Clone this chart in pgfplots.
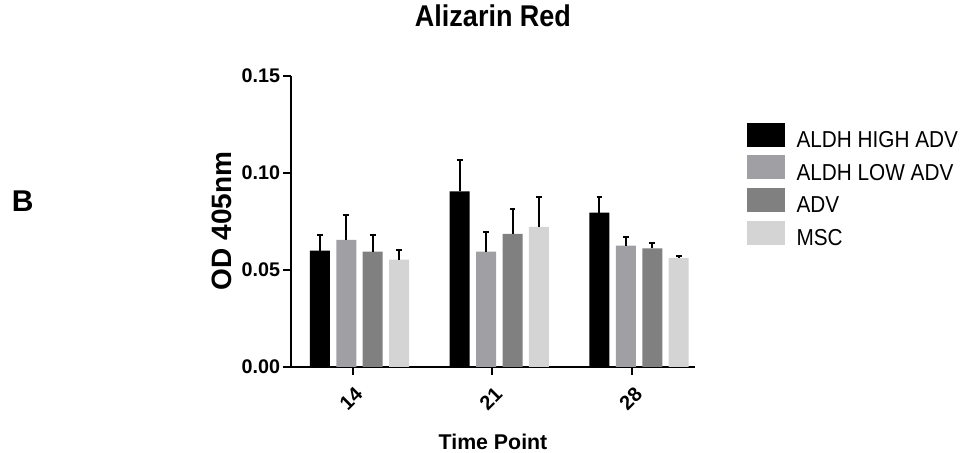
\documentclass[border=0pt]{standalone}
\usepackage{pgfplots}
\pgfplotsset{compat=1.18}
\usepackage{fontspec}
\setmainfont{Liberation Sans}
\newfontfamily\narrowsans{Liberation Sans}[FakeStretch=0.9]

\definecolor{aldhlow}{RGB}{160,160,164}
\definecolor{advgray}{RGB}{128,128,128}
\definecolor{mscgray}{RGB}{212,212,212}

\newcommand{\fs}[1]{\fontsize{#1}{#1}\selectfont}

\begin{document}
\begin{tikzpicture}
\useasboundingbox (0,0) rectangle (726pt,339.75pt);
% panel letter
\node[anchor=base west, inner sep=0pt, font=\bfseries\fs{22.5pt}] at (8.75pt,181pt) {B};

\begin{axis}[
    at={(218.25pt,64.5pt)}, anchor=south west,
    scale only axis,
    width=303pt, height=218.25pt,
    ybar, bar width=0.143,
    xmin=-0.49, xmax=2.40,
    ymin=0, ymax=0.15,
    axis lines=left,
    axis line style={-, line width=1.5pt},
    every tick/.style={black, line width=1.5pt},
    tick align=outside,
    major tick length=6pt,
    xtick={-0.05,0.95,1.95},
    xticklabels={14,21,28},
    ytick={0,0.05,0.10,0.15},
    yticklabels={0.00,0.05,0.10,0.15},
    yticklabel style={font=\bfseries\fs{14.8pt}, inner sep=2pt},
    xticklabel style={font=\bfseries\fs{15pt}, rotate=45, anchor=north east,
        inner sep=1pt, xshift=-4pt, yshift=-5.5pt},
    title={Alizarin Red},
    title style={font=\narrowsans\bfseries\fs{22.5pt}, at={(axis description cs:0.5,1.141)}, anchor=base},
    ylabel={OD 405nm},
    ylabel style={font=\bfseries\fs{21pt}, at={(axis description cs:-0.171,0.502)}, anchor=center},
    xlabel={Time Point},
    xlabel style={font=\bfseries\fs{16pt}, at={(axis description cs:0.5,-0.282)}, anchor=base},
    legend style={draw=none, fill=none, at={(1.117,0.85)}, anchor=north west,
        font=\narrowsans\fs{17.3pt}, row sep=0.75pt, column sep=0pt,
        nodes={inner sep=0pt, text height=13pt, text depth=5pt}},
    legend cell align=left,
    /tikz/every odd column/.append style={column sep=9pt},
    legend image code/.code={\path[#1, draw=none] (0pt,-3.25pt) rectangle (28.5pt,14.75pt);},
    error bars/y dir=plus,
    error bars/y explicit,
    error bars/error bar style={black, line width=1.5pt},
    error bars/error mark options={black, rotate=90, line width=1.5pt, mark size=2.2pt},
]
% ALDH HIGH ADV
\addplot[fill=black, draw=none, bar shift=-0.2835] coordinates {
    (0,0.0600) +- (0,0.0082)
    (1,0.0905) +- (0,0.0161)
    (2,0.0796) +- (0,0.0078)
};
\addlegendentry{ALDH HIGH ADV}
% ALDH LOW ADV
\addplot[fill=aldhlow, draw=none, bar shift=-0.0945] coordinates {
    (0,0.0655) +- (0,0.0130)
    (1,0.0595) +- (0,0.0103)
    (2,0.0626) +- (0,0.0045)
};
\addlegendentry{ALDH LOW ADV}
% ADV
\addplot[fill=advgray, draw=none, bar shift=0.0945] coordinates {
    (0,0.0595) +- (0,0.0087)
    (1,0.0686) +- (0,0.0127)
    (2,0.0612) +- (0,0.0026)
};
\addlegendentry{ADV}
% MSC
\addplot[fill=mscgray, draw=none, bar shift=0.2835] coordinates {
    (0,0.0554) +- (0,0.0050)
    (1,0.0722) +- (0,0.0154)
    (2,0.0563) +- (0,0.0008)
};
\addlegendentry{MSC}
\end{axis}
\end{tikzpicture}
\end{document}
